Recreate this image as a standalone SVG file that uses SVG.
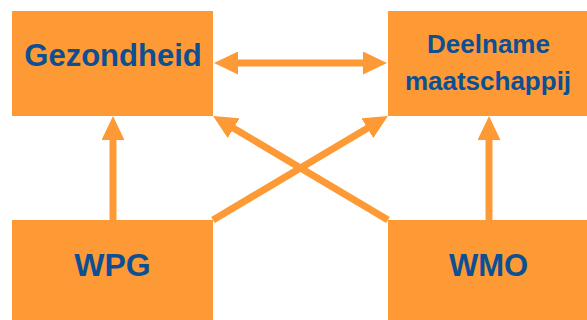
<svg xmlns="http://www.w3.org/2000/svg" width="587" height="320" viewBox="0 0 587 320">
<style>
.box{fill:#FD9A35}
.lbl{font-family:"Liberation Sans",Arial,sans-serif;font-weight:bold;fill:#0C4F94;text-anchor:middle}
.con{stroke:#FD9A35;stroke-width:7;fill:none}
</style>
<defs>
<marker id="ah" markerUnits="userSpaceOnUse" markerWidth="24" markerHeight="23" refX="1" refY="11.5" orient="auto-start-reverse" viewBox="0 0 24 23">
<path d="M0,0 L24,11.5 L0,23 Z" fill="#FD9A35"/>
</marker>
</defs>
<rect width="587" height="320" fill="#ffffff"/>
<g id="connectors">
<line class="con" x1="237" y1="63" x2="364" y2="63" marker-start="url(#ah)" marker-end="url(#ah)"/>
<line class="con" x1="113" y1="220" x2="113" y2="139" marker-end="url(#ah)"/>
<line class="con" x1="489" y1="220" x2="489" y2="139" marker-end="url(#ah)"/>
<line class="con" x1="213" y1="220" x2="368.2" y2="127.7" marker-end="url(#ah)"/>
<line class="con" x1="388" y1="220" x2="232.8" y2="127.7" marker-end="url(#ah)"/>
</g>
<g id="gezondheid">
<rect class="box" x="12" y="11" width="201" height="105"/>
<text class="lbl" x="113" y="66" font-size="31">Gezondheid</text>
</g>
<g id="deelname">
<rect class="box" x="388" y="11" width="199" height="105"/>
<text class="lbl" x="488.5" y="53" font-size="26">Deelname</text>
<text class="lbl" x="488" y="90" font-size="26">maatschappij</text>
</g>
<g id="wpg">
<rect class="box" x="12" y="220" width="201" height="100"/>
<text class="lbl" x="112.5" y="276" font-size="32">WPG</text>
</g>
<g id="wmo">
<rect class="box" x="388" y="220" width="199" height="100"/>
<text class="lbl" x="488.5" y="276" font-size="31">WMO</text>
</g>
</svg>
